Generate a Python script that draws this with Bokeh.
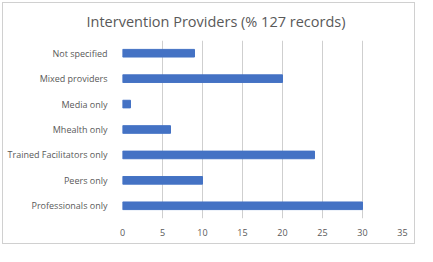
from bokeh.plotting import figure
from bokeh.embed import file_html
from bokeh.resources import INLINE
from bokeh.models import Range1d, FixedTicker

categories = ["Not specified", "Mixed providers", "Media only", "Mhealth only",
              "Trained Facilitators only", "Peers only", "Professionals only"]
values = [9, 20, 1, 6, 24, 10, 30]
x_ticks = [0, 5, 10, 15, 20, 25, 30, 35]

cats_bottom_up = list(reversed(categories))
vals_bottom_up = list(reversed(values))

p = figure(width=417, height=246, y_range=cats_bottom_up, x_range=Range1d(0, 35),
           output_backend="svg", toolbar_location=None,
           min_border_left=122, min_border_right=15, min_border_top=40, min_border_bottom=28)
p.hbar(y=cats_bottom_up, right=vals_bottom_up, left=0, height=0.3, color="#4472C4")

p.title.text = "Intervention Providers (% 127 records)"
p.title.align = "left"
p.title.offset = -36
p.title.standoff = 19
p.title.text_font = "Open Sans"
p.title.text_font_size = "14.5px"
p.title.text_font_style = "normal"
p.title.text_color = "#595959"

p.xaxis.ticker = FixedTicker(ticks=x_ticks)
for ax in (p.xaxis[0], p.yaxis[0]):
    ax.axis_line_color = None
    ax.major_tick_line_color = None
    ax.minor_tick_line_color = None
    ax.major_label_text_font = "Open Sans"
    ax.major_label_text_font_size = "9px"
    ax.major_label_text_color = "#595959"
p.yaxis.major_label_standoff = 9
p.xaxis.major_label_standoff = 4
p.ygrid.grid_line_color = None
p.xgrid.grid_line_color = "#CFCFCF"
p.outline_line_color = None
p.border_fill_color = None
p.background_fill_color = "#FFFFFF"
p.styles = {"background-color": "#FFFFFF",
            "box-shadow": "inset 0 0 0 2px #FFFFFF, inset 0 0 0 3px #D0D0D0"}

open("out.html", "w").write(file_html(p, INLINE))
